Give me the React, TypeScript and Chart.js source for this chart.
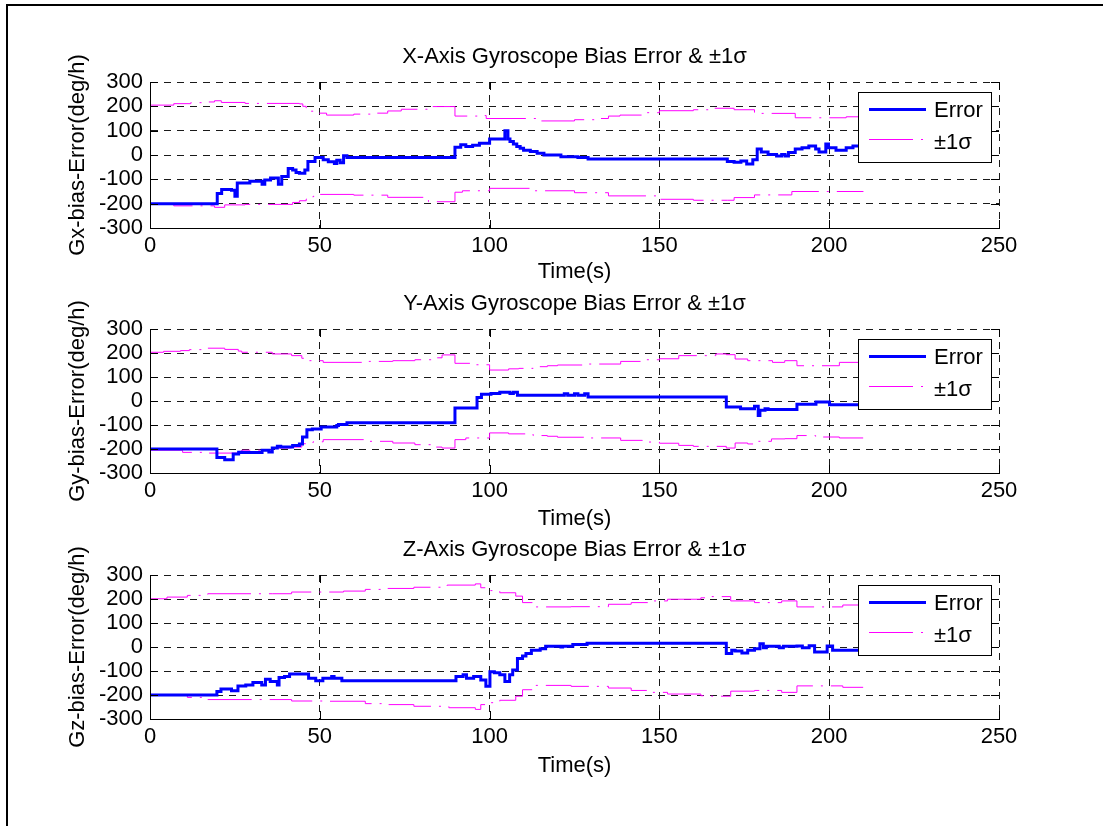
import { useEffect, useRef } from "react";
import { Chart, registerables } from "chart.js";

Chart.register(...registerables);

const FONT = "'Liberation Sans', Arial, Helvetica, sans-serif";

// Axis ticks
const timeTicks = [0, 50, 100, 150, 200, 250];
const biasTicks = [-300, -200, -100, 0, 100, 200, 300];

// Text
const panelTitles = [
  "X-Axis Gyroscope Bias Error & \u00b11\u03c3",
  "Y-Axis Gyroscope Bias Error & \u00b11\u03c3",
  "Z-Axis Gyroscope Bias Error & \u00b11\u03c3",
];
const panelYLabels = ["Gx-bias-Error(deg/h)", "Gy-bias-Error(deg/h)", "Gz-bias-Error(deg/h)"];
const timeLabel = "Time(s)";
const seriesLabels = ["Error", "\u00b11\u03c3"];

// [time s, bias deg/h] — X axis gyro
const gxError: [number, number][] = [
  [0, -200], [19.8, -158], [21.1, -142], [24, -145], [25, -170], [25.7, -115], [29.4, -108],
  [33, -120], [33.8, -103], [35.5, -95], [37.8, -120], [38.8, -88], [40.7, -55], [42, -62],
  [43, -72], [44, -75], [45.6, -62], [46.5, -27], [48.6, -10], [51, -20], [52.5, -28],
  [54.3, -35], [55, -22], [56, -32], [57, -3], [58, -10], [89.8, 32], [91.5, 42], [93, 35],
  [95, 40], [97, 48], [100, 66], [104.5, 100], [105.4, 66], [106, 55], [107, 45], [108, 35],
  [109, 28], [110, 20], [112, 14], [114, 7], [116, 0], [121, -7], [126, -10], [129, -16],
  [170, -27], [172, -30], [174, -25], [175.7, -37], [177.5, -20], [178.8, 25], [180, 12],
  [182, 2], [184.5, -4], [186, 2], [187, -4], [188, 10], [190, 25], [192, 30], [194, 37],
  [196, 25], [197, 12], [199, 45], [199.8, 30], [202, 20], [205, 30], [207, 37], [210, 40],
];
const gxSigmaUp: [number, number][] = [
  [0, 205], [7, 211], [12, 215], [16, 218], [19, 223], [21, 216], [28, 212], [44, 210],
  [45, 200], [46, 188], [47, 180], [49, 172], [52, 164], [60, 168], [66, 172], [70, 181],
  [74, 188], [82, 199], [89.8, 160], [97, 162], [99, 150], [115, 140], [125, 145], [131, 150],
  [135, 160], [138.4, 164], [145, 174], [150, 182], [160, 186], [165, 192], [172, 186],
  [178, 171], [190, 153], [205, 157], [210, 157],
];
const gxSigmaLow: [number, number][] = [
  [0, -203], [7, -209], [19, -215], [22, -205], [28, -203], [42, -195], [44, -188], [46, -181],
  [48, -170], [50, -162], [60, -165], [70, -174], [82, -192], [89.8, -153], [92, -147],
  [100, -137], [112, -147], [125, -155], [135, -168], [150, -182], [160, -186], [170, -186],
  [172, -175], [178, -164], [189, -150], [210, -148],
];

// Y axis gyro
const gyError: [number, number][] = [
  [0, -200], [19.7, -235], [22, -245], [24.5, -221], [26.1, -214], [27, -215], [33, -205],
  [35, -212], [36, -196], [37.5, -189], [38.5, -192], [42, -185], [44, -179], [44.9, -150],
  [46.2, -120], [47.8, -117], [50.4, -108], [55, -102], [55.5, -98], [58, -91], [89.8, -29],
  [96.3, 15], [97.6, 28], [100.4, 31], [103, 36], [106, 31], [107, 36], [108.2, 24], [122, 30],
  [123, 24], [125, 30], [126, 24], [128, 30], [129, 17], [169.7, -25], [173.9, -32], [178, -22],
  [179.1, -60], [179.6, -39], [181.1, -32], [182, -35], [190.5, -14], [196.1, -4], [200.1, -16],
  [210, -14],
];
const gySigmaUp: [number, number][] = [
  [0, 203], [4, 207], [9, 210], [11.6, 214], [17, 220], [22, 215], [26, 208], [27, 203],
  [36, 196], [41.7, 189], [44.7, 178], [46.7, 168], [51, 161], [63.4, 165], [71.5, 168],
  [78, 172], [84, 180], [86, 192], [89.8, 157], [94.3, 151], [100, 129], [105.6, 134],
  [108.6, 136], [112.8, 143], [117, 147], [120, 150], [129.3, 154], [138.6, 165], [145, 172],
  [150, 176], [155.7, 189], [166.6, 196], [169.7, 193], [172.3, 175], [176, 168], [183.3, 161],
  [186.9, 168], [190.5, 147], [203, 161], [210, 161],
];
const gySigmaLow: [number, number][] = [
  [0, -205], [9.6, -214], [17, -217], [26, -210], [27, -205], [36, -196], [41.7, -192],
  [44.7, -178], [48, -170], [51, -161], [63.4, -168], [71.5, -175], [78, -182], [84, -192],
  [86, -196], [89.8, -161], [93, -154], [100, -133], [105.6, -137], [112.8, -144], [117, -147],
  [120, -151], [129.3, -154], [138.6, -164], [145, -171], [150, -176], [155.7, -185],
  [160, -189], [169.7, -196], [172.3, -175], [176, -179], [179.1, -168], [183, -158],
  [187, -157], [190.5, -144], [196, -150], [203, -154], [210, -154],
];

// Z axis gyro
const gzError: [number, number][] = [
  [0, -200], [19.7, -185], [20.9, -175], [24, -182], [25.9, -163], [28.2, -158], [30.3, -148],
  [32.9, -158], [34, -134], [35.4, -144], [37.5, -158], [38, -127], [39.6, -123], [41.1, -113],
  [46.7, -130], [48.8, -141], [50.9, -130], [53.5, -123], [54.2, -130], [56.5, -141],
  [90.1, -123], [92.2, -116], [93.2, -130], [95.3, -123], [97.4, -137], [98.9, -164],
  [100.1, -103], [101.4, -107], [103, -116], [104.5, -144], [105.9, -116], [106.8, -96],
  [108.2, -48], [109.7, -38], [110.7, -27], [112.3, -14], [114.9, -7], [116.5, 3], [121, 0],
  [121.5, 3], [124.5, 10], [128.7, 16], [169.7, -27], [171.3, -14], [172.3, -17], [174.3, -25],
  [176, -14], [178, -7], [179.6, 14], [180.6, -3], [181.5, 3], [185.3, -3], [186.5, 3],
  [190.5, 4], [192.1, -3], [194.1, 5], [195.7, -21], [199.4, 4], [201, -14], [210, -14],
];
const gzSigmaUp: [number, number][] = [
  [0, 201], [5, 208], [11, 215], [17, 222], [36, 222], [41.7, 229], [52, 229], [57, 233],
  [63.4, 240], [70, 244], [77.7, 249], [87.5, 258], [95.8, 263], [97.4, 247], [100, 235],
  [103, 226], [107.7, 212], [109.7, 185], [112.8, 167], [124, 168], [135, 178], [141.7, 185],
  [147.4, 192], [152.4, 199], [162.2, 205], [165.3, 210], [171, 192], [178, 185], [186, 192],
  [190.5, 167], [204, 175], [210, 175],
];
const gzSigmaLow: [number, number][] = [
  [0, -201], [11, -210], [17, -219], [41.7, -225], [52, -226], [63.4, -236], [70, -240],
  [77.7, -247], [88, -253], [95.8, -260], [97.4, -240], [100, -232], [103, -222], [107.7, -205],
  [109.7, -178], [112.8, -160], [124, -164], [135, -171], [141.7, -181], [147.4, -189],
  [152.4, -196], [162.2, -203], [165.3, -205], [171, -184], [178, -181], [186, -189],
  [190.5, -162], [204, -168], [210, -168],
];

const panelSeries = [
  { err: gxError, up: gxSigmaUp, low: gxSigmaLow },
  { err: gyError, up: gySigmaUp, low: gySigmaLow },
  { err: gzError, up: gzSigmaUp, low: gzSigmaLow },
];

// Page layout (px)
const PAGE_W = 1103;
const PAGE_H = 826;
const PLOT_LEFT = 150;
const PLOT_RIGHT = 999;
const TITLE_SPACE = 45;
const AXIS_SPACE = 62;
const panelFrames = [
  { top: 82, bottom: 228, xTitleGap: 44 },
  { top: 329, bottom: 473, xTitleGap: 46 },
  { top: 575, bottom: 719, xTitleGap: 47 },
];

const SIGMA_DASH = [44, 8, 2, 8];
const GRID_DASH = [7, 6];

const font22 = { family: FONT, size: 22, weight: "normal" as const, lineHeight: 1.2 };

// MATLAB-style inward tick marks on all four sides
const inwardTicks = {
  id: "inwardTicks",
  afterDatasetsDraw(chart: any) {
    const { ctx, chartArea: a, scales } = chart;
    const xs = scales.x;
    const ys = scales.y;
    const len = 8;
    ctx.save();
    ctx.strokeStyle = "#000";
    ctx.lineWidth = 1;
    ctx.setLineDash([]);
    ctx.beginPath();
    for (const t of xs.ticks) {
      const px = Math.round(xs.getPixelForValue(t.value)) + 0.5;
      ctx.moveTo(px, a.bottom);
      ctx.lineTo(px, a.bottom - len);
      ctx.moveTo(px, a.top);
      ctx.lineTo(px, a.top + len);
    }
    for (const t of ys.ticks) {
      const py = Math.round(ys.getPixelForValue(t.value)) + 0.5;
      ctx.moveTo(a.left, py);
      ctx.lineTo(a.left + len, py);
      ctx.moveTo(a.right, py);
      ctx.lineTo(a.right - len, py);
    }
    // solid left and bottom axis lines
    const l = Math.round(a.left) + 0.5;
    const b = Math.round(a.bottom) + 0.5;
    ctx.moveTo(l, Math.round(a.top));
    ctx.lineTo(l, b);
    ctx.lineTo(Math.round(a.right) + 1, b);
    ctx.stroke();
    ctx.restore();
  },
};

// Boxed legend in the upper-right corner of the plot area
const boxedLegend = {
  id: "boxedLegend",
  afterDraw(chart: any) {
    const { ctx, chartArea: a } = chart;
    const w = 133;
    const h = 70;
    const left = Math.round(a.right) - 141;
    const top = Math.round(a.top) + 10;
    ctx.save();
    ctx.fillStyle = "#fff";
    ctx.fillRect(left, top, w, h);
    ctx.strokeStyle = "#000";
    ctx.lineWidth = 1;
    ctx.setLineDash([]);
    ctx.strokeRect(left + 0.5, top + 0.5, w, h);
    const rows = [
      { sampleY: 17, textY: 19 },
      { sampleY: 47, textY: 51 },
    ];
    chart.data.datasets.slice(0, 2).forEach((ds: any, i: number) => {
      ctx.save();
      ctx.strokeStyle = ds.borderColor;
      ctx.lineWidth = ds.borderWidth;
      ctx.setLineDash(ds.borderDash || []);
      ctx.beginPath();
      const sy = top + rows[i].sampleY + (ds.borderWidth % 2 ? 0.5 : 0);
      ctx.moveTo(left + 11, sy);
      ctx.lineTo(left + 68, sy);
      ctx.stroke();
      ctx.restore();
      ctx.fillStyle = "#000";
      ctx.font = `22px ${FONT}`;
      ctx.textAlign = "left";
      ctx.textBaseline = "middle";
      ctx.fillText(ds.label, left + 76, top + rows[i].textY);
    });
    ctx.restore();
  },
};

const toPoints = (arr: [number, number][]) => arr.map(([x, y]) => ({ x, y }));

function Panel({ index }: { index: number }) {
  const ref = useRef<HTMLCanvasElement | null>(null);
  const frame = panelFrames[index];
  const series = panelSeries[index];
  const height = frame.bottom - frame.top + TITLE_SPACE + AXIS_SPACE;

  useEffect(() => {
    if (!ref.current) return;
    // each value holds until the next sample time (stairs)
    const lineBase = { pointRadius: 0, fill: false, stepped: "before" };
    const chart = new Chart(ref.current, {
      type: "line",
      data: {
        datasets: [
          {
            ...lineBase,
            label: seriesLabels[0],
            data: toPoints(series.err),
            borderColor: "#0000ff",
            borderWidth: 3,
          },
          {
            ...lineBase,
            label: seriesLabels[1],
            data: toPoints(series.up),
            borderColor: "#ff00ff",
            borderWidth: 1,
            borderDash: SIGMA_DASH,
          },
          {
            ...lineBase,
            label: "",
            data: toPoints(series.low),
            borderColor: "#ff00ff",
            borderWidth: 1,
            borderDash: SIGMA_DASH,
          },
        ],
      },
      options: {
        responsive: false,
        animation: false,
        events: [],
        layout: { padding: { left: 0, right: PAGE_W - PLOT_RIGHT, top: 0, bottom: 0 } },
        plugins: {
          legend: { display: false },
          tooltip: { enabled: false },
          title: {
            display: true,
            text: panelTitles[index],
            fullSize: false,
            color: "#000",
            font: font22,
            padding: { top: 6.8, bottom: TITLE_SPACE - 6.8 - 26.4 },
          },
        },
        scales: {
          x: {
            type: "linear",
            position: "bottom",
            min: timeTicks[0],
            max: timeTicks[timeTicks.length - 1],
            afterBuildTicks: (s: any) => {
              s.ticks = timeTicks.map((value) => ({ value }));
            },
            afterFit: (s: any) => {
              s.height = AXIS_SPACE;
            },
            grid: { color: "#1a1a1a", lineWidth: 1, drawTicks: false },
            border: { display: true, color: "#000", width: 1, dash: GRID_DASH },
            ticks: { padding: 5, color: "#000", font: font22, maxRotation: 0, autoSkip: false },
            title: {
              display: true,
              text: timeLabel,
              color: "#000",
              font: font22,
              padding: { top: 0, bottom: AXIS_SPACE - frame.xTitleGap - 13.2 },
            },
          },
          y: {
            type: "linear",
            position: "left",
            min: biasTicks[0],
            max: biasTicks[biasTicks.length - 1],
            afterBuildTicks: (s: any) => {
              s.ticks = biasTicks.map((value) => ({ value }));
            },
            afterFit: (s: any) => {
              s.width = PLOT_LEFT;
            },
            grid: { color: "#1a1a1a", lineWidth: 1, drawTicks: false },
            border: { display: true, color: "#000", width: 1, dash: GRID_DASH },
            ticks: { padding: 7, color: "#000", font: font22, autoSkip: false },
            title: {
              display: true,
              text: panelYLabels[index],
              color: "#000",
              font: font22,
              padding: { top: 77.5 - 13.2, bottom: 0 },
            },
          },
        },
      },
      plugins: [inwardTicks, boxedLegend],
    } as any);
    return () => chart.destroy();
  }, [index]);

  return (
    <canvas
      ref={ref}
      width={PAGE_W}
      height={height}
      style={{
        position: "absolute",
        left: 0,
        top: frame.top - TITLE_SPACE,
        width: PAGE_W,
        height,
        display: "block",
      }}
    />
  );
}

export default function App() {
  return (
    <div
      style={{
        position: "absolute",
        left: 0,
        top: 0,
        width: PAGE_W,
        height: PAGE_H,
        background: "#fff",
        overflow: "hidden",
      }}
    >
      <div style={{ position: "absolute", left: 6, top: 4, width: 2, height: PAGE_H - 4, background: "#000" }} />
      <div style={{ position: "absolute", left: 6, top: 4, width: PAGE_W - 6, height: 2, background: "#000" }} />
      {panelFrames.map((_, i) => (
        <Panel key={i} index={i} />
      ))}
    </div>
  );
}
